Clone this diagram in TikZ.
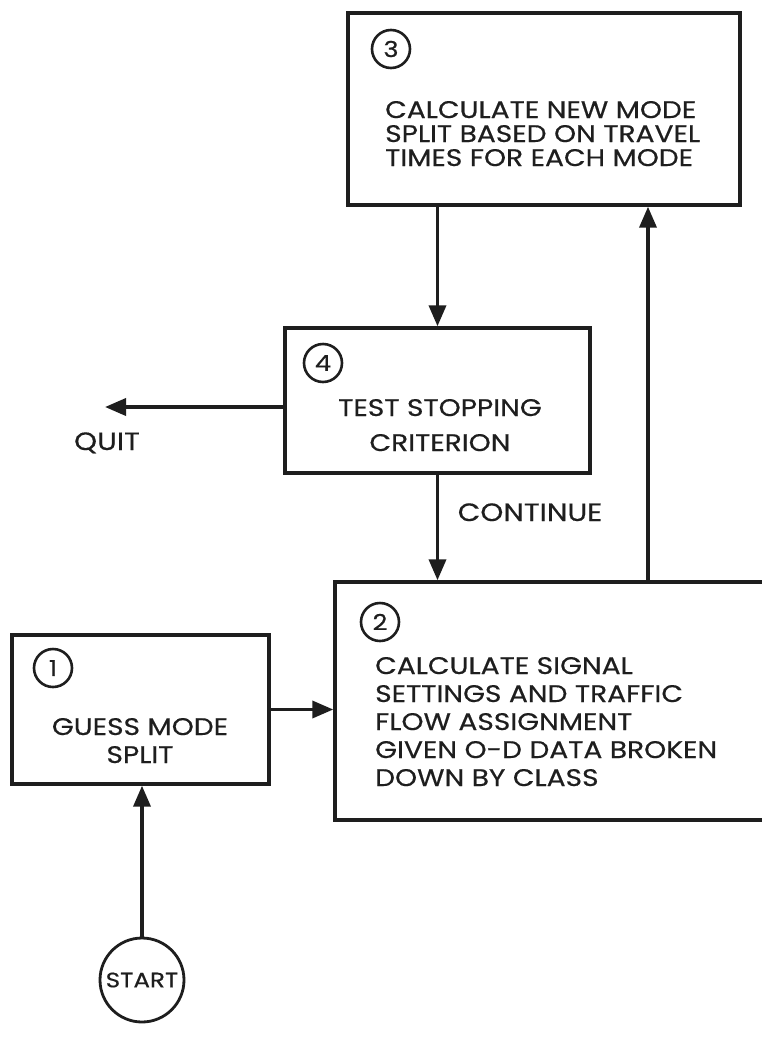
\documentclass[tikz,border=0pt]{standalone}
\usepackage{fontspec}
\setmainfont{Poppins}[FakeStretch=1.17, FakeBold=0.5]
\usepackage{tikz}
\usepackage{xcolor}
\usetikzlibrary{arrows.meta, positioning}
\definecolor{inkDark}{RGB}{30,30,30}
\newcommand{\boxfont}{\fontsize{24}{24}\selectfont}

\begin{document}
\begin{tikzpicture}[x=1pt, y=-1pt,
    blockbox/.style={draw=inkDark, line width=3.4pt, rectangle, inner sep=0pt},
    numcirc/.style={draw=inkDark, line width=2.6pt, circle, minimum size=38pt, inner sep=0pt, font=\fontsize{22}{22}\selectfont, text=inkDark},
    flowarrow/.style={draw=inkDark, line width=3.6pt, -{Triangle[length=21pt,width=17pt]}},
    lbl/.style={inner sep=0pt, font=\boxfont, text=inkDark}]
  \useasboundingbox (0,0) rectangle (762,1042);
  \clip (0,0) rectangle (762,1042);
  \fill[white] (0,0) rectangle (762,1042);
  % boxes
  \node[blockbox, minimum width=392pt, minimum height=192pt] (newsplit) at (544,109) {};
  \node[blockbox, minimum width=305pt, minimum height=145pt] (stoptest) at (437.5,400.5) {};
  \node[blockbox, minimum width=460pt, minimum height=238pt] (assign) at (565,701) {};
  \node[blockbox, minimum width=257pt, minimum height=149pt] (guess) at (140.5,709.5) {};
  \node[draw=inkDark, line width=2.8pt, circle, minimum size=84pt, inner sep=0pt, font=\fontsize{21}{21}\selectfont, text=inkDark] (start) at (142,980) {START};
  % step numbers
  \foreach \n/\x/\y in {1/53/668, 2/380/622, 3/391/49, 4/323/363} {
    \node[numcirc] (num\n) at (\x,\y) {\n};
  }
  % box texts (anchored at the last baseline)
  \node[lbl, anchor=base west, align=left] (txtnewsplit) at (385,166)
    {CALCULATE NEW MODE\\SPLIT BASED ON TRAVEL\\TIMES FOR EACH MODE};
  \node[lbl, anchor=base, align=center, font=\fontsize{24}{35}\selectfont] (txtstoptest) at (440,451)
    {TEST STOPPING\\CRITERION};
  \node[lbl, anchor=base west, align=left, font=\fontsize{24}{28}\selectfont] (txtassign) at (375,786)
    {CALCULATE SIGNAL\\SETTINGS AND TRAFFIC\\FLOW ASSIGNMENT\\GIVEN O-D DATA BROKEN\\DOWN BY CLASS};
  \node[lbl, anchor=base, align=center, font=\fontsize{24}{28}\selectfont] (txtguess) at (140,763)
    {GUESS MODE\\SPLIT};
  \node[lbl, anchor=base, font=\fontsize{25}{25}\selectfont] (quitlbl) at (107,450) {QUIT};
  \node[lbl, anchor=base, font=\fontsize{25}{25}\selectfont] (contlbl) at (530,521) {CONTINUE};
  % connectors
  \coordinate (quitend) at (105,407);
  \coordinate (backup) at (648,0);
  \draw[flowarrow] (start.north) -- (start.north |- guess.south);
  \draw[flowarrow] (guess.east) -- (assign.west |- guess.east);
  \draw[flowarrow] (backup |- assign.north) -- (backup |- newsplit.south);
  \draw[flowarrow] (newsplit.south -| stoptest.north) -- (stoptest.north);
  \draw[flowarrow] (stoptest.south) -- (stoptest.south |- assign.north);
  \draw[flowarrow] (stoptest.west |- quitend) -- (quitend);
\end{tikzpicture}
\end{document}
